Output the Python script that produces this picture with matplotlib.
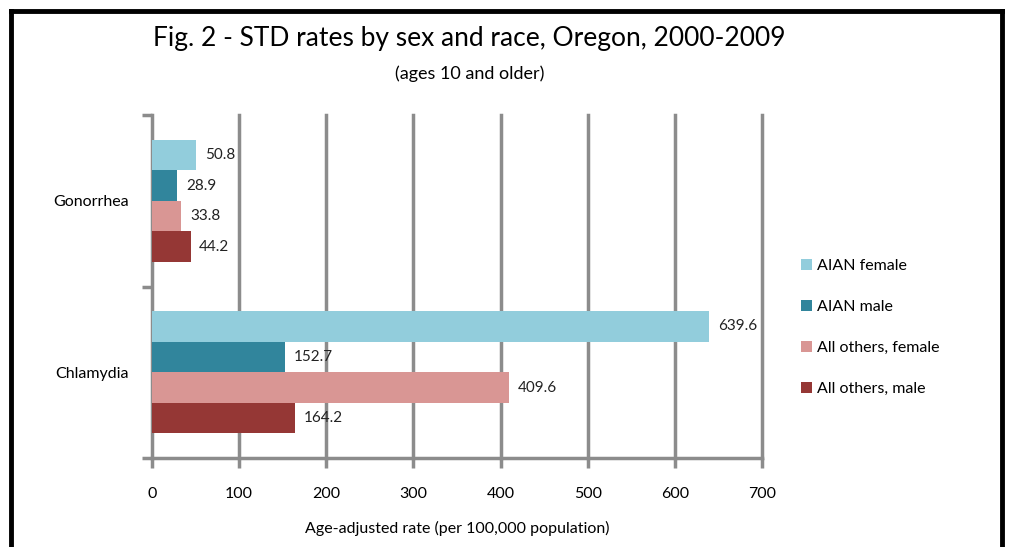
import matplotlib
matplotlib.use("Agg")
import matplotlib.pyplot as plt
from matplotlib.lines import Line2D
import numpy as np

# data
diseases = ["Gonorrhea", "Chlamydia"]
series = ["AIAN female", "AIAN male", "All others, female", "All others, male"]
aian_female = [50.8, 639.6]
aian_male = [28.9, 152.7]
others_female = [33.8, 409.6]
others_male = [44.2, 164.2]
values = [aian_female, aian_male, others_female, others_male]
colors = ["#92CDDC", "#31859C", "#D99694", "#953735"]
xticks = [0, 100, 200, 300, 400, 500, 600, 700]

plt.rcParams["font.family"] = ["Lato", "DejaVu Sans"]

fig = plt.figure(figsize=(10.1, 5.47), dpi=100)
ax = fig.add_axes([0.1505, 0.1627, 0.604, 0.627])

grid_gray = "#8C8C8C"
bar_h = 0.178
y = np.arange(len(diseases))
for i, (vals, col, name) in enumerate(zip(values, colors, series)):
    pos = y - 1.5 * bar_h + i * bar_h
    ax.barh(pos, vals, height=bar_h, color=col, label=name, zorder=3)
    for p, v in zip(pos, vals):
        ax.text(v + 10, p, f"{v:.1f}", va="center", ha="left",
                fontsize=11, color="#222222", zorder=4)

ax.set_xlim(0, 700)
ax.set_ylim(1.5, -0.5)
ax.set_xticks(xticks)
ax.set_xticklabels([str(t) for t in xticks], fontsize=11.5)
ax.set_yticks(y)
ax.set_yticklabels(diseases, fontsize=11.5)
ax.set_yticks([-0.5, 0.5, 1.5], minor=True)
ax.tick_params(axis="y", which="major", length=0, pad=17)
ax.tick_params(axis="y", which="minor", length=7, width=2.5, color=grid_gray)
ax.tick_params(axis="x", which="major", length=7, width=2.5, color=grid_gray, pad=14)

for x in xticks[1:]:
    ax.axvline(x, color=grid_gray, lw=2.5, zorder=1, clip_on=False)

for side in ["top", "right"]:
    ax.spines[side].set_visible(False)
for side in ["left", "bottom"]:
    ax.spines[side].set_color(grid_gray)
    ax.spines[side].set_linewidth(2.5)

ax.set_xlabel("Age-adjusted rate (per 100,000 population)", fontsize=11.5, labelpad=14)

fig.text(0.465, 0.93, "Fig. 2 - STD rates by sex and race, Oregon, 2000-2009",
         ha="center", va="center", fontsize=19)
fig.text(0.465, 0.866, "(ages 10 and older)", ha="center", va="center", fontsize=13)

ax.legend(loc="center left", bbox_to_anchor=(1.04, 0.38), frameon=False,
          fontsize=11.5, handlelength=0.7, handleheight=0.7, handletextpad=0.3,
          labelspacing=1.68)

# black frame round the figure
fig.add_artist(Line2D([0.011, 0.011], [0, 0.979], color="black", lw=3.5))
fig.add_artist(Line2D([0.011, 0.992], [0.979, 0.979], color="black", lw=3.5))
fig.add_artist(Line2D([0.992, 0.992], [0, 0.979], color="black", lw=3.5))

fig.savefig("out.png", dpi=100)
